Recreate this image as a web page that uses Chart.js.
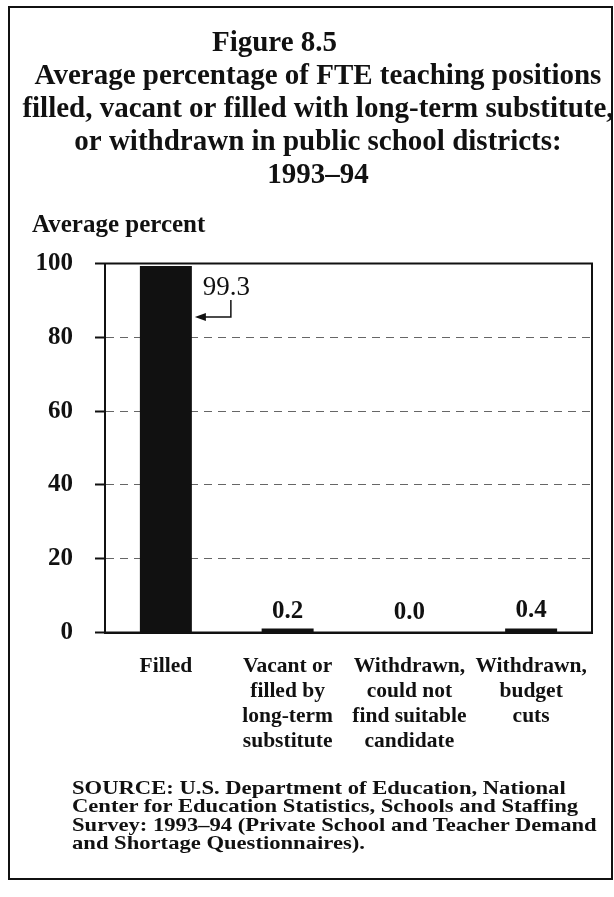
<!DOCTYPE html>
<html>
<head>
<meta charset="utf-8">
<script src="https://cdn.jsdelivr.net/npm/chart.js@4/dist/chart.umd.min.js"></script>
<style>
  html, body { margin: 0; padding: 0; background: #fff; }
  body { width: 614px; height: 897px; position: relative; overflow: hidden; }
  #frame {
    position: absolute; left: 8px; top: 6px; width: 605px; height: 874px;
    box-sizing: border-box; border: 2px solid #111; pointer-events: none;
  }
  #chartBox { position: absolute; left: 0; top: 0; width: 614px; height: 780px; }
  #source {
    position: absolute; left: 72px; top: 779px;
    font: bold 19px "Liberation Serif", serif; line-height: 18.3px; color: #111;
    white-space: nowrap; transform: scaleX(1.19); transform-origin: 0 0;
  }
</style>
</head>
<body>
<div id="frame"></div>
<div id="chartBox"><canvas id="chart"></canvas></div>
<div id="source">SOURCE: U.S. Department of Education, National<br>Center for Education Statistics, Schools and Staffing<br>Survey: 1993–94 (Private School and Teacher Demand<br>and Shortage Questionnaires).</div>
<script>
"use strict";

// chart data
const categories = [
	['Filled'],
	['Vacant or', 'filled by', 'long-term', 'substitute'],
	['Withdrawn,', 'could not', 'find suitable', 'candidate'],
	['Withdrawn,', 'budget', 'cuts']
];
const averagePercent = [99.3, 0.2, 0.0, 0.4];
const yTickValues = [0, 20, 40, 60, 80, 100];
const titleLines = [
	'Figure 8.5\u2003\u2003\u2003',
	'Average percentage of FTE teaching positions',
	'filled, vacant or filled with long-term substitute,',
	'or withdrawn in public school districts:',
	'1993–94'
];
const yAxisCaption = 'Average percent';

const serif = '"Liberation Serif", "Times New Roman", serif';
Chart.defaults.font.family = serif;
Chart.defaults.color = '#111';

// box around the plot
const plotFrame = {
	id: 'plotFrame',
	afterDatasetsDraw(chart) {
		const {ctx, chartArea: a} = chart;
		ctx.save();
		ctx.strokeStyle = '#111';
		ctx.lineWidth = 2;
		ctx.strokeRect(a.left, a.top, a.right - a.left, a.bottom - a.top);
		ctx.restore();
	}
};

// "Average percent" caption above the axis
const axisCaption = {
	id: 'axisCaption',
	afterDraw(chart) {
		const ctx = chart.ctx;
		ctx.save();
		ctx.font = 'bold 25px ' + serif;
		ctx.fillStyle = '#111';
		ctx.textAlign = 'left';
		ctx.fillText(yAxisCaption, 32, 232);
		ctx.restore();
	}
};

// numbers over the bars, plus the arrow for the tall one
const valueLabels = {
	id: 'valueLabels',
	afterDatasetsDraw(chart) {
		const ctx = chart.ctx;
		const yScale = chart.scales.y;
		chart.getDatasetMeta(0).data.forEach(function(bar, i) {
			const v = averagePercent[i];
			const top = yScale.getPixelForValue(v);
			const text = v.toFixed(1);
			ctx.save();
			ctx.fillStyle = '#111';
			ctx.strokeStyle = '#111';
			if (v > 50) {
				const right = bar.x + bar.width / 2;
				ctx.font = '27px ' + serif;
				ctx.textAlign = 'left';
				ctx.fillText(text, right + 11, top + 29);
				const ax = right + 39;
				ctx.lineWidth = 1.5;
				ctx.beginPath();
				ctx.moveTo(ax, top + 34);
				ctx.lineTo(ax, top + 51);
				ctx.lineTo(right + 12, top + 51);
				ctx.stroke();
				ctx.beginPath();
				ctx.moveTo(right + 3, top + 51);
				ctx.lineTo(right + 14, top + 47);
				ctx.lineTo(right + 14, top + 55);
				ctx.closePath();
				ctx.fill();
			} else {
				ctx.font = 'bold 25px ' + serif;
				ctx.textAlign = 'center';
				ctx.fillText(text, bar.x, top - 14);
			}
			ctx.restore();
		});
	}
};

new Chart(document.getElementById('chart'), {
	type: 'bar',
	data: {
		labels: categories,
		datasets: [{
			data: averagePercent,
			backgroundColor: function(c) { return c.raw === 0 ? 'rgba(0,0,0,0)' : '#111'; },
			borderWidth: 0,
			minBarLength: 4,
			categoryPercentage: 1,
			barPercentage: 0.427
		}]
	},
	options: {
		responsive: true,
		maintainAspectRatio: false,
		animation: false,
		layout: {padding: {left: 22, right: 0, top: 0, bottom: 5.5}},
		plugins: {
			legend: {display: false},
			tooltip: {enabled: false},
			title: {
				display: true,
				text: titleLines,
				color: '#111',
				font: {family: serif, size: 29, weight: 'bold', lineHeight: '33px'},
				padding: {top: 27, bottom: 71.5}
			}
		},
		scales: {
			x: {
				grid: {display: false, drawTicks: false},
				border: {display: true, color: '#111', width: 2},
				ticks: {
					autoSkip: false,
					maxRotation: 0,
					padding: 21,
					color: '#111',
					font: {family: serif, size: 21.5, weight: 'bold', lineHeight: '25px'}
				}
			},
			y: {
				min: 0,
				max: 100,
				afterBuildTicks: function(s) { s.ticks = yTickValues.map(function(v) { return {value: v}; }); },
				afterFit: function(s) { s.width = 83; },
				grid: {
					color: '#666',
					lineWidth: 1,
					tickLength: 10,
					tickColor: '#111',
					tickWidth: 2
				},
				border: {display: true, color: '#111', width: 2, dash: [8, 6]},
				ticks: {
					padding: 22,
					color: '#111',
					font: {family: serif, size: 25, weight: 'bold'}
				}
			},
			pad: {
				type: 'linear',
				position: 'right',
				display: true,
				grid: {display: false, drawTicks: false},
				border: {display: false},
				ticks: {display: false},
				afterFit: function(s) { s.width = 22; }
			}
		}
	},
	plugins: [plotFrame, axisCaption, valueLabels]
});
</script>
</body>
</html>
